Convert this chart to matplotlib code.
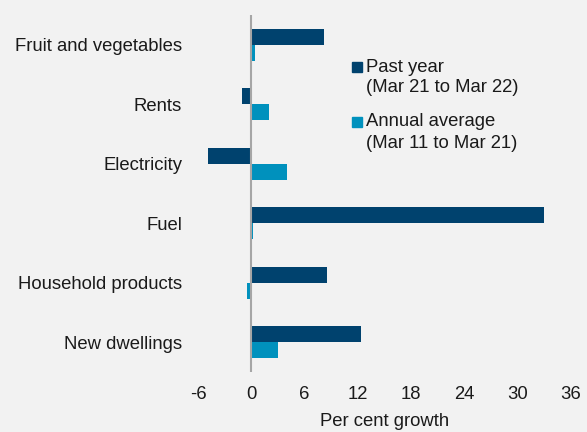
import matplotlib.pyplot as plt
import numpy as np
from matplotlib.patches import Rectangle

plt.rcParams["font.family"] = ["Liberation Sans", "DejaVu Sans"]

categories = ["Fruit and vegetables", "Rents", "Electricity", "Fuel",
              "Household products", "New dwellings"]
past_year = [8.2, -1.1, -4.9, 33.0, 8.5, 12.4]
annual_avg = [0.4, 2.0, 4.0, 0.2, -0.45, 3.0]
xticks = [-6, 0, 6, 12, 18, 24, 30, 36]
legend_labels = [["Past year", "(Mar 21 to Mar 22)"],
                 ["Annual average", "(Mar 11 to Mar 21)"]]

DARK = "#00426E"
LIGHT = "#0091BD"
BG = "#F2F2F2"
TXT = "#1A1A1A"
FS = 13.3

W, H = 587, 432
fig = plt.figure(figsize=(W / 100, H / 100), dpi=100, facecolor=BG)
ax = fig.add_axes([198 / W, 1 - 372 / H, 373 / W, 357 / H], facecolor=BG)

y = np.arange(len(categories))
h = 0.27
ax.barh(y - h / 2, past_year, height=h, color=DARK, zorder=2)
ax.barh(y + h / 2, annual_avg, height=h, color=LIGHT, zorder=2)
ax.axvline(0, color="#A6A6A6", lw=1.5, zorder=3)

ax.set_ylim(len(categories) - 0.5, -0.5)
ax.set_xlim(-6, 36)
ax.set_xticks(xticks)
ax.set_xticklabels([str(t) for t in xticks])
ax.set_yticks(y)
ax.set_yticklabels(categories)
ax.tick_params(length=0, labelsize=FS, colors=TXT)
ax.tick_params(axis="y", pad=11.5)
ax.tick_params(axis="x", pad=10)
for s in ax.spines.values():
    s.set_visible(False)
ax.set_xlabel("Per cent growth", fontsize=FS, color=TXT, labelpad=7)

# legend drawn by hand: square beside the first line of each two-line label
for (l1, l2), col, y0 in zip(legend_labels, [DARK, LIGHT], [67, 122]):
    fig.patches.append(Rectangle((352 / W, 1 - (y0 + 5) / H), 10 / W, 10 / H,
                                 transform=fig.transFigure, color=col))
    fig.text(366 / W, 1 - y0 / H, l1, fontsize=FS, color=TXT, va="center")
    fig.text(366 / W, 1 - (y0 + 21) / H, l2, fontsize=FS, color=TXT, va="center")

fig.savefig("out.png", dpi=100, facecolor=BG)
